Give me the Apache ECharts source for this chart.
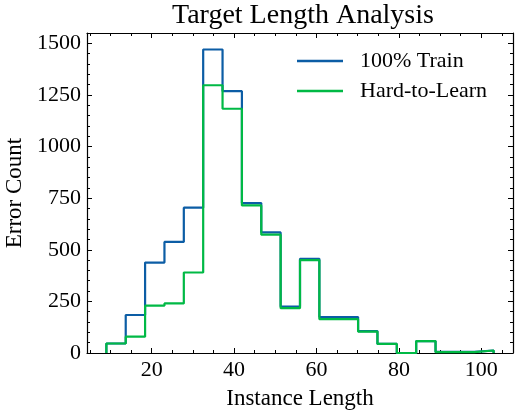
<!DOCTYPE html>
<html>
<head>
<meta charset="utf-8">
<script src="https://cdn.jsdelivr.net/npm/echarts@6/dist/echarts.min.js"></script>
<style>
  html, body { margin: 0; padding: 0; background: #fff; }
  #main { width: 516px; height: 415px; }
</style>
</head>
<body>
<div id="main"></div>
<script>
// histogram bin edges (20 bins, 9 .. 103)
var binEdges = [9, 13.7, 18.4, 23.1, 27.8, 32.5, 37.2, 41.9, 46.6, 51.3, 56,
                60.7, 65.4, 70.1, 74.8, 79.5, 84.2, 88.9, 93.6, 98.3, 103];

// error counts per bin
var trainCounts = [46, 184, 438, 538, 704, 1470, 1268, 726, 584, 225, 456,
                   174, 174, 106, 44, 0, 58, 5, 5, 12];
var hardCounts  = [46, 79, 229, 240, 390, 1297, 1183, 715, 573, 217, 450,
                   164, 164, 104, 44, 0, 58, 4, 4, 12];

var seriesNames = ['100% Train', 'Hard-to-Learn'];

// tick values
var xMajorTicks = [20, 40, 60, 80, 100];
var xMinorTicks = [5, 10, 15, 25, 30, 35, 45, 50, 55, 65, 70, 75, 85, 90, 95, 105];
var yMajorTicks = [0, 250, 500, 750, 1000, 1250, 1500];
var yMinorTicks = [50, 100, 150, 200, 300, 350, 400, 450, 550, 600, 650, 700,
                   800, 850, 900, 950, 1050, 1100, 1150, 1200, 1300, 1350,
                   1400, 1450];

var xMin = 4.3, xMax = 107.7;
var yMin = 0, yMax = 1550;

var FONT = 'Liberation Serif';
var BLUE = '#0C5DA5';
var GREEN = '#00B945';

// step outline like matplotlib histtype='step'
function stepPoints(edges, counts) {
    var pts = [[edges[0], 0]];
    for (var i = 0; i < counts.length; i++) {
        pts.push([edges[i], counts[i]]);
        pts.push([edges[i + 1], counts[i]]);
    }
    pts.push([edges[edges.length - 1], 0]);
    return pts;
}

function plainNum(v) {
    return String(v);
}

function xAxisDef(pos, ticks, len, labels, line) {
    return {
        type: 'value', position: pos, min: xMin, max: xMax,
        axisLine: { show: line, onZero: false, lineStyle: { color: '#000', width: 1.2 } },
        axisTick: { show: true, inside: true, length: len, customValues: ticks,
                    lineStyle: { color: '#000', width: 1 } },
        axisLabel: labels ? { show: true, customValues: ticks, margin: 6, formatter: plainNum,
                              fontFamily: FONT, fontSize: 22, color: '#000' } : { show: false },
        splitLine: { show: false }
    };
}

function yAxisDef(pos, ticks, len, labels, line) {
    return {
        type: 'value', position: pos, min: yMin, max: yMax,
        axisLine: { show: line, onZero: false, lineStyle: { color: '#000', width: 1.2 } },
        axisTick: { show: true, inside: true, length: len, customValues: ticks,
                    lineStyle: { color: '#000', width: 1 } },
        axisLabel: labels ? { show: true, customValues: ticks, margin: 6, formatter: plainNum,
                              fontFamily: FONT, fontSize: 22, color: '#000' } : { show: false },
        splitLine: { show: false }
    };
}

var xAxes = [
    xAxisDef('bottom', xMajorTicks, 5, true, true),
    xAxisDef('bottom', xMinorTicks, 3, false, false),
    xAxisDef('top', xMajorTicks, 5, false, true),
    xAxisDef('top', xMinorTicks, 3, false, false)
];
xAxes[0].name = 'Instance Length';
xAxes[0].nameLocation = 'middle';
xAxes[0].nameGap = 34;
xAxes[0].nameTextStyle = { fontFamily: FONT, fontSize: 23, color: '#000' };

var yAxes = [
    yAxisDef('left', yMajorTicks, 5, true, true),
    yAxisDef('left', yMinorTicks, 3, false, false),
    yAxisDef('right', yMajorTicks, 5, false, true),
    yAxisDef('right', yMinorTicks, 3, false, false)
];
yAxes[0].name = 'Error Count';
yAxes[0].nameLocation = 'middle';
yAxes[0].nameGap = 58;
yAxes[0].nameTextStyle = { fontFamily: FONT, fontSize: 23, color: '#000' };

var chart = echarts.init(document.getElementById('main'), null, { renderer: 'canvas' });

chart.setOption({
    animation: false,
    backgroundColor: '#fff',
    title: {
        text: 'Target Length Analysis',
        left: 172, top: 2, padding: 0,
        textStyle: { fontFamily: FONT, fontSize: 28, fontWeight: 'normal', color: '#000' }
    },
    legend: {
        orient: 'vertical',
        left: 297, top: 50, padding: 0,
        itemWidth: 46, itemHeight: 2.5, itemGap: 8,
        icon: 'rect',
        data: seriesNames,
        textStyle: { fontFamily: FONT, fontSize: 22, color: '#000', padding: [0, 0, 0, 12] }
    },
    grid: { left: 87, right: 3, top: 33, bottom: 62, containLabel: false, outerBoundsMode: 'none' },
    xAxis: xAxes,
    yAxis: yAxes,
    series: [
        {
            name: seriesNames[0], type: 'line', xAxisIndex: 0, yAxisIndex: 0,
            data: stepPoints(binEdges, trainCounts),
            showSymbol: false, symbol: 'none', color: BLUE,
            lineStyle: { color: BLUE, width: 2.2 }
        },
        {
            name: seriesNames[1], type: 'line', xAxisIndex: 0, yAxisIndex: 0,
            data: stepPoints(binEdges, hardCounts),
            showSymbol: false, symbol: 'none', color: GREEN,
            lineStyle: { color: GREEN, width: 2.2 }
        }
    ]
});
</script>
</body>
</html>
